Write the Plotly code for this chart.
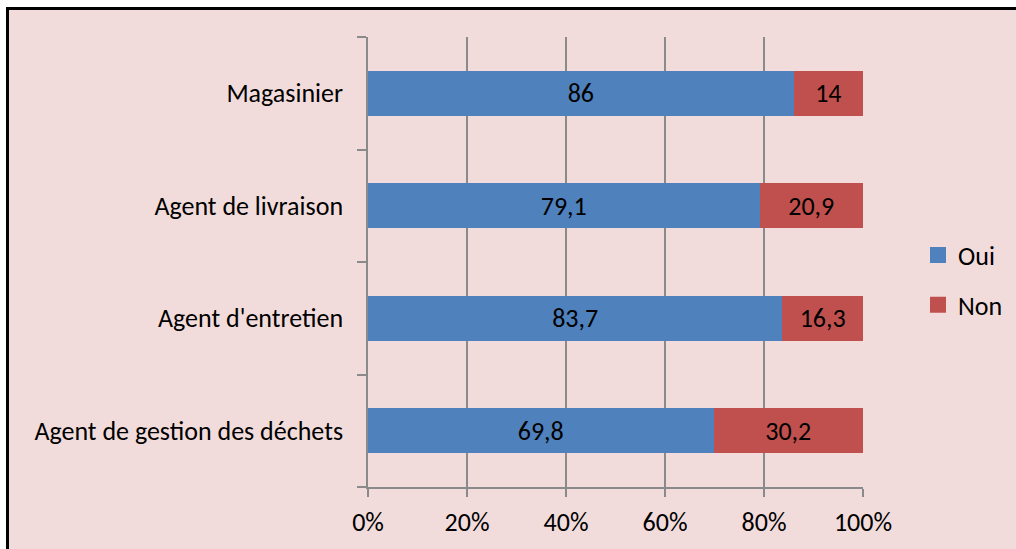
import plotly.graph_objects as go

# Job categories, listed bottom to top as plotted
categories = [
    "Agent de gestion des déchets",
    "Agent d'entretien",
    "Agent de livraison",
    "Magasinier",
]
oui = [69.8, 83.7, 79.1, 86]
non = [30.2, 16.3, 20.9, 14]
x_ticks = [0, 20, 40, 60, 80, 100]
x_tick_labels = [f"{v}%" for v in x_ticks]

BLUE = "#4F81BD"
RED = "#C0504D"
PINK = "#F2DCDB"
GRID = "#8A8A8A"
FONT = "Carlito, Lato, sans-serif"
FS = 26


def fmt(v):
    return f"{v:g}".replace(".", ",")


series = [("Oui", oui, BLUE), ("Non", non, RED)]

fig = go.Figure()
for name, vals, color in series:
    fig.add_trace(go.Bar(
        y=categories, x=vals, name=name, orientation="h",
        marker=dict(color=color, line=dict(width=0)),
        text=[fmt(v) for v in vals], textposition="inside",
        insidetextanchor="middle", textangle=0,
        textfont=dict(family=FONT, size=FS, color="black"),
        legendgroup=name, showlegend=False, hoverinfo="skip",
    ))
# Legend keys drawn as larger square markers
for name, _, color in series:
    fig.add_trace(go.Scatter(
        x=[None], y=[None], mode="markers", name=name,
        marker=dict(symbol="square", size=16, color=color, line=dict(width=0)),
        legendgroup=name, showlegend=True, hoverinfo="skip",
    ))

W, H = 1016, 549
ml, mr, mt, mb = 368, 153, 37, 62
pw, ph = W - ml - mr, H - mt - mb


def px(x):
    return (x - ml) / pw


def py(y):
    return (H - mb - y) / ph


# Pink chart-area frame with a black border
fig.add_shape(type="rect", xref="paper", yref="paper",
              x0=px(7.5), x1=px(1040), y0=py(570), y1=py(8.5),
              fillcolor=PINK, line=dict(color="black", width=3),
              layer="below")

fig.update_layout(
    width=W, height=H,
    margin=dict(l=ml, r=mr, t=mt, b=mb, autoexpand=False),
    paper_bgcolor="white", plot_bgcolor="white",
    barmode="stack", bargap=0.6,
    font=dict(family=FONT, size=FS, color="black"),
    showlegend=True,
    legend=dict(xref="container", yref="container",
                x=918 / W, xanchor="left", y=(H - 280) / H, yanchor="middle",
                traceorder="grouped", tracegroupgap=13,
                bgcolor="rgba(0,0,0,0)",
                font=dict(family=FONT, size=FS, color="black"),
                itemwidth=30),
    xaxis=dict(range=[0, 100], tickvals=x_ticks, ticktext=x_tick_labels,
               showgrid=True, gridcolor=GRID, gridwidth=1.5,
               showline=True, linecolor=GRID, linewidth=1.5,
               ticks="outside", ticklen=8, tickcolor=GRID, tickwidth=1.5,
               ticklabelstandoff=3, automargin=False,
               zeroline=False, fixedrange=True),
    yaxis=dict(type="category", categoryorder="array", categoryarray=categories,
               showgrid=False, showline=True, linecolor=GRID, linewidth=1.5,
               ticks="outside", tickson="boundaries", ticklen=9,
               tickcolor=GRID, tickwidth=1.5, ticklabelstandoff=18,
               automargin=False, zeroline=False, fixedrange=True),
)

fig.write_html("out.html")
